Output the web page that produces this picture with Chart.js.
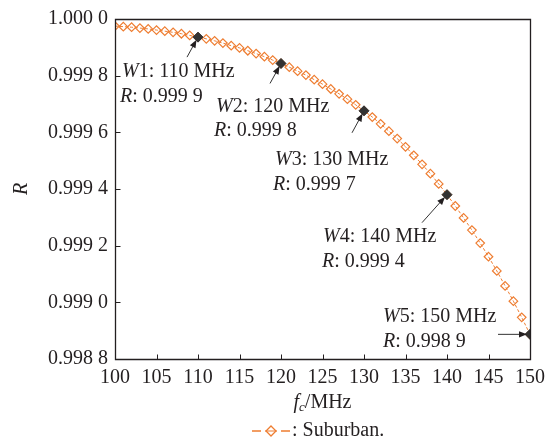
<!DOCTYPE html>
<html><head><meta charset="utf-8">
<script src="https://cdn.jsdelivr.net/npm/chart.js@4.4.0/dist/chart.umd.min.js"></script>
<style>html,body{margin:0;padding:0;background:#fff}#wrap{width:553px;height:441px;position:relative}</style>
</head><body><div id="wrap"><canvas id="c" width="553" height="441"></canvas></div>
<script>
// ---- data ----
const frequencies = [100,101,102,103,104,105,106,107,108,109,110,111,112,113,114,115,116,117,118,119,120,121,122,123,124,125,126,127,128,129,130,131,132,133,134,135,136,137,138,139,140,141,142,143,144,145,146,147,148,149,150];
const suburbanR = [0.999975,0.999973,0.999971,0.999968,0.999965,0.999961,0.999957,0.999953,0.999948,0.999942,
  0.999936,0.999930,0.999923,0.999915,0.999906,0.999898,0.999888,0.999878,0.999867,0.999855,
  0.999843,0.999830,0.999816,0.999802,0.999786,0.999770,0.999753,0.999736,0.999717,0.999697,
  0.999676,0.999654,0.999630,0.999604,0.999578,0.999549,0.999519,0.999487,0.999454,0.999418,
  0.999380,0.999340,0.999298,0.999255,0.999209,0.999161,0.999111,0.999058,0.999004,0.998947,
  0.998887];
const markedFreqs = [110,120,130,140,150];
const markedNames = ['1: 110 MHz','2: 120 MHz','3: 130 MHz','4: 140 MHz','5: 150 MHz'];
const markedRText = [': 0.999 9',': 0.999 8',': 0.999 7',': 0.999 4',': 0.998 9'];
const xTicks = [100,105,110,115,120,125,130,135,140,145,150];
const yTicks = [0.9988,0.9990,0.9992,0.9994,0.9996,0.9998,1.0000];
const yTickLabels = ['0.998 8','0.999 0','0.999 2','0.999 4','0.999 6','0.999 8','1.000 0'];
const seriesName = 'Suburban.';

// ---- layout / style ----
const FONT = "'Liberation Serif','Times New Roman',serif";
const INK = '#231F20';
const ORANGE = '#EE7D31';
const annText = [[122,72,120,97],[216,107,214,131],[275,160,273,185],[323,237,322,262],[383,317,383,342]];
const annTail = [[-11,20],[-11,20],[-12,22],[-25,28],[-32,0]];

const seriesData = frequencies.map((f,i)=>({x:f,y:suburbanR[i]}));
const markedData = markedFreqs.map(f=>({x:f,y:suburbanR[frequencies.indexOf(f)]}));

function drawArrow(ctx,x1,y1,x2,y2){
  const a=Math.atan2(y2-y1,x2-x1);
  const L=8,W=3.2;
  ctx.beginPath();ctx.moveTo(x1,y1);ctx.lineTo(x2-Math.cos(a)*L*0.8,y2-Math.sin(a)*L*0.8);ctx.stroke();
  ctx.beginPath();
  ctx.moveTo(x2,y2);
  ctx.lineTo(x2-Math.cos(a)*L+Math.sin(a)*W,y2-Math.sin(a)*L-Math.cos(a)*W);
  ctx.lineTo(x2-Math.cos(a)*L-Math.sin(a)*W,y2-Math.sin(a)*L+Math.cos(a)*W);
  ctx.closePath();ctx.fill();
}
function italicPlus(ctx,it,rest,x,y){
  ctx.font='italic 20px '+FONT;ctx.fillText(it,x,y);
  const w=ctx.measureText(it).width;
  ctx.font='20px '+FONT;ctx.fillText(rest,x+w,y);
}

const deco = {
  id:'deco',
  afterDraw(chart){
    const ctx=chart.ctx, a=chart.chartArea, xs=chart.scales.x, ys=chart.scales.y;
    ctx.save();
    ctx.setLineDash([]);ctx.lineDashOffset=0;ctx.globalAlpha=1;
    ctx.strokeStyle='#231F20';ctx.lineWidth=1.3;
    const L=Math.round(a.left)+0.5,R=Math.round(a.right)+0.5,T=Math.round(a.top)+0.5,B=Math.round(a.bottom)+0.5;
    ctx.beginPath();
    ctx.moveTo(L,T);ctx.lineTo(R,T);ctx.lineTo(R,B);ctx.lineTo(L,B);ctx.closePath();
    ctx.stroke();
    ctx.lineWidth=1;
    ctx.beginPath();
    xTicks.forEach(v=>{const p=Math.round(xs.getPixelForValue(v))+0.5;ctx.moveTo(p,B);ctx.lineTo(p,B-5);});
    yTicks.forEach(v=>{const p=Math.round(ys.getPixelForValue(v))+0.5;ctx.moveTo(L,p);ctx.lineTo(L+5,p);});
    ctx.stroke();
    // annotations
    ctx.fillStyle=INK;ctx.strokeStyle='#333';ctx.lineWidth=1;
    markedData.forEach((d,i)=>{
      const px=xs.getPixelForValue(d.x), py=ys.getPixelForValue(d.y);
      const tx=px+annTail[i][0], ty=py+annTail[i][1];
      const ang=Math.atan2(py-ty,px-tx);
      drawArrow(ctx,tx,ty,px-Math.cos(ang)*3,py-Math.sin(ang)*3);
    });
    ctx.textBaseline='middle';ctx.textAlign='left';
    markedData.forEach((d,i)=>{
      const t=annText[i];
      italicPlus(ctx,'W',markedNames[i],t[0],t[1]);
      italicPlus(ctx,'R',markedRText[i],t[2],t[3]);
    });
    // axis titles
    ctx.save();ctx.translate(22,(a.top+a.bottom)/2);ctx.rotate(-Math.PI/2);
    ctx.textAlign='center';ctx.font='italic 20px '+FONT;ctx.fillText('R',0,0);ctx.restore();
    ctx.font='italic 20px '+FONT;
    const wf=ctx.measureText('f').width;
    ctx.font='italic 13px '+FONT;const wc=ctx.measureText('c').width;
    ctx.font='20px '+FONT;const wr=ctx.measureText('/MHz').width;
    let x0=(a.left+a.right)/2-(wf+wc+wr)/2, yT=403;
    ctx.font='italic 20px '+FONT;ctx.fillText('f',x0,yT);
    ctx.font='italic 13px '+FONT;ctx.fillText('c',x0+wf,yT+5);
    ctx.font='20px '+FONT;ctx.fillText('/MHz',x0+wf+wc,yT);
    // legend
    const ly=431;
    ctx.strokeStyle=ORANGE;ctx.lineWidth=1.6;
    ctx.beginPath();ctx.moveTo(252,ly);ctx.lineTo(261,ly);ctx.moveTo(281,ly);ctx.lineTo(290,ly);ctx.stroke();
    ctx.lineWidth=1;ctx.beginPath();ctx.moveTo(265,ly);ctx.lineTo(277,ly);ctx.stroke();
    ctx.fillStyle='rgba(255,255,255,0)';ctx.lineWidth=1.3;
    ctx.beginPath();ctx.moveTo(271,ly-5);ctx.lineTo(276,ly);ctx.lineTo(271,ly+5);ctx.lineTo(266,ly);ctx.closePath();ctx.stroke();
    ctx.fillStyle=INK;ctx.font='20px '+FONT;ctx.fillText(': '+seriesName,292,ly);
    ctx.restore();
  }
};

new Chart(document.getElementById('c'),{
  type:'line',
  data:{datasets:[
    {label:seriesName,data:seriesData,borderColor:ORANGE,borderWidth:1,borderDash:[3,2],
     pointStyle:'rectRot',pointRadius:4.3,pointBorderWidth:1.2,pointBorderColor:ORANGE,pointBackgroundColor:'rgba(255,255,255,0)',
     fill:false,tension:0,order:1},
    {label:'marked',data:markedData,showLine:false,pointStyle:'rectRot',pointRadius:5,
     pointBackgroundColor:'#333',pointBorderColor:'#333',pointBorderWidth:1,order:0}
  ]},
  options:{
    responsive:false,animation:false,devicePixelRatio:1,
    layout:{padding:{top:19,right:23,left:0,bottom:0}},
    plugins:{legend:{display:false},tooltip:{enabled:false}},
    scales:{
      x:{type:'linear',min:100,max:150,
        afterBuildTicks:s=>{s.ticks=xTicks.map(v=>({value:v}));},
        afterFit:s=>{s.height=82;},
        grid:{display:false,drawTicks:false},border:{display:false},
        ticks:{padding:7,color:INK,font:{family:FONT,size:20},maxRotation:0,autoSkip:false,callback:v=>String(v)}},
      y:{type:'linear',min:0.9988,max:1.0,
        afterBuildTicks:s=>{s.ticks=yTicks.map(v=>({value:v}));},
        afterFit:s=>{s.width=115;},
        grid:{display:false,drawTicks:false},border:{display:false},
        ticks:{padding:7,color:INK,font:{family:FONT,size:20},autoSkip:false,callback:(v,i)=>yTickLabels[i]}}
    }
  },
  plugins:[deco]
});
</script></body></html>
